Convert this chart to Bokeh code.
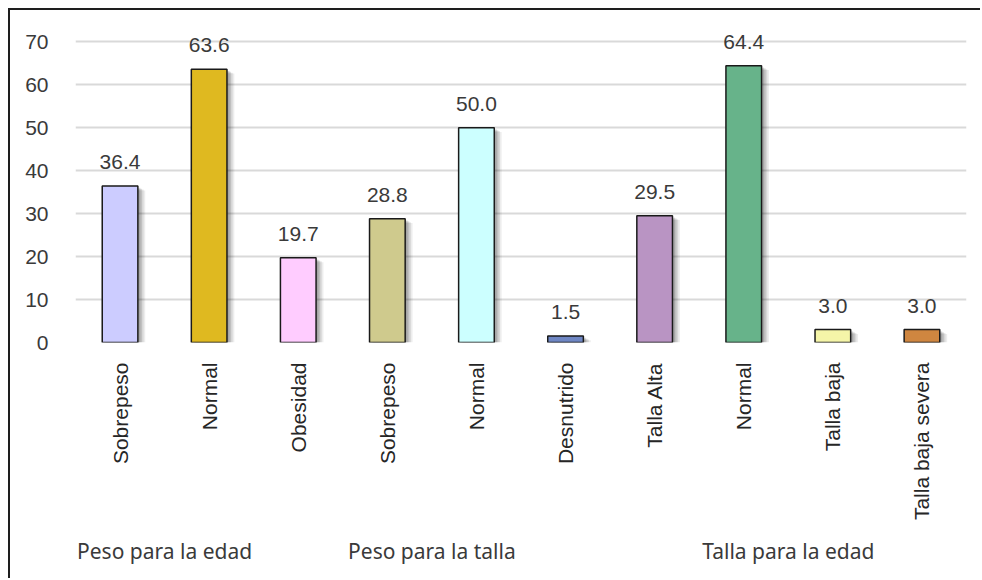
from bokeh.plotting import figure
from bokeh.models import FactorRange, ColumnDataSource, FixedTicker, Range1d
from bokeh.transform import dodge
from bokeh.embed import file_html
from bokeh.resources import INLINE
from bokeh.core.properties import value
import math

# Estado nutricional (%) por indicador antropométrico
groups = ["Peso para la edad", "Peso para la edad",
          "Peso para la talla", "Peso para la talla", "Peso para la talla", "Peso para la talla",
          "Talla para la edad", "Talla para la edad", "Talla para la edad", "Talla para la edad"]
categories = ["Sobrepeso", "Normal",
              "Obesidad", "Sobrepeso", "Normal", "Desnutrido",
              "Talla Alta", "Normal", "Talla baja", "Talla baja severa"]
values = [36.4, 63.6, 19.7, 28.8, 50.0, 1.5, 29.5, 64.4, 3.0, 3.0]
colors = ["#CCCCFF", "#DFB920", "#FFCCFF", "#CFCA8D", "#CCFFFF",
          "#6F87C4", "#B994C3", "#67B38A", "#F5F5A8", "#CF8640"]
y_ticks = [0, 10, 20, 30, 40, 50, 60, 70]

factors = list(zip(groups, categories))
src = ColumnDataSource(dict(
    x=factors,
    v=values,
    c=colors,
    lbl=[f"{v:.1f}" for v in values],
))

p = figure(
    x_range=FactorRange(*factors, factor_padding=0, group_padding=0, range_padding=0),
    y_range=Range1d(0, 74),
    width=972, height=570,
    output_backend="svg", toolbar_location=None,
    min_border_left=65, min_border_right=16, min_border_top=14, min_border_bottom=238,
)
p.styles = {
    "margin-left": "8px", "margin-top": "8px",
    "border-left": "2px solid #1e1e1e", "border-top": "2px solid #1e1e1e",
}
p.outline_line_color = None
p.background_fill_color = "white"
p.border_fill_color = "white"

# soft drop shadow behind each bar
for i, (dx, dy, a) in enumerate([(0.065, -1.0, 0.07), (0.052, -0.8, 0.09),
                                 (0.040, -0.6, 0.11), (0.028, -0.4, 0.13)]):
    p.vbar(x=dodge("x", dx, range=p.x_range), top=dodge("v", dy), bottom=-1.2,
           width=0.40 + 0.012 * (3 - i), source=src,
           fill_color="#000000", fill_alpha=a, line_color=None)

p.vbar(x="x", top="v", width=0.40, source=src,
       fill_color="c", line_color="#1a1a1a", line_width=1.5)

p.text(x="x", y="v", text="lbl", source=src,
       text_align="center", text_baseline="bottom", y_offset=-17,
       text_font=value("Liberation Sans"), text_font_size="21px",
       text_color="#3a3a3a")

# y axis: labels only, light horizontal grid
p.yaxis.ticker = FixedTicker(ticks=y_ticks)
p.yaxis.axis_line_color = None
p.yaxis.major_tick_line_color = None
p.yaxis.minor_tick_line_color = None
p.yaxis.major_label_standoff = 21
p.yaxis.major_label_text_font = "Liberation Sans"
p.yaxis.major_label_text_font_size = "21px"
p.yaxis.major_label_text_color = "#3a3a3a"
p.ygrid.ticker = FixedTicker(ticks=y_ticks)
p.ygrid.grid_line_color = "#d9d9d9"
p.ygrid.grid_line_width = 2
p.xgrid.grid_line_color = None

# x axis: vertical category names with indicator groups underneath
p.xaxis.axis_line_color = None
p.xaxis.major_tick_line_color = None
p.xaxis.minor_tick_line_color = None
p.xaxis.major_label_orientation = math.pi / 2
p.xaxis.major_label_standoff = 14
p.xaxis.major_label_text_font = "Liberation Sans"
p.xaxis.major_label_text_font_size = "21px"
p.xaxis.major_label_text_color = "#262626"
p.xaxis.group_text_font = "Noto Sans"
p.xaxis.group_text_font_size = "21px"
p.xaxis.group_text_font_style = "normal"
p.xaxis.group_text_color = "#3a3a3a"
p.xaxis.separator_line_alpha = 0

open("out.html", "w").write(file_html(p, INLINE))
